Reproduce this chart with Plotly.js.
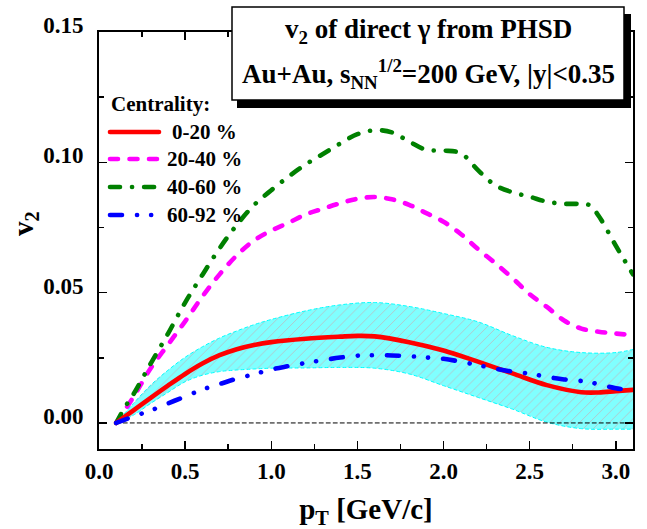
<!DOCTYPE html>
<html>
<head>
<meta charset="utf-8">
<script src="https://cdn.plot.ly/plotly-3.0.1.min.js"></script>
<style>
  html, body { margin: 0; padding: 0; background: #fff; }
  #chart { width: 647px; height: 529px; }
  .scatterlayer .js-line { stroke-linecap: round; }
  .shapelayer path { stroke-linecap: round; }
</style>
</head>
<body>
<div id="chart"></div>
<script>
// ---------------- data ----------------
const seriesNames = ["0-20 %", "20-40 %", "40-60 %", "60-92 %"];

const redX = [0.1,0.2,0.3,0.4,0.5,0.6,0.7,0.8,0.9,1.0,1.2,1.4,1.5,1.6,1.8,2.0,2.2,2.4,2.6,2.8,2.9,3.0,3.1];
const redY = [0,0.0048,0.0096,0.0143,0.0188,0.0228,0.026,0.0283,0.0299,0.031,0.0323,0.0331,0.0334,0.0332,0.031,0.0278,0.0235,0.019,0.0145,0.0118,0.0117,0.0122,0.0127];

const bandX =     [0.1,0.2,0.3,0.4,0.5,0.6,0.7,0.8,0.9,1.0,1.2,1.4,1.6,1.8,2.0,2.2,2.4,2.6,2.8,3.0,3.1];
const bandUpper = [0,0.0075,0.0145,0.0202,0.0252,0.0292,0.0326,0.0353,0.0377,0.0397,0.043,0.0453,0.0462,0.0447,0.042,0.0388,0.0335,0.029,0.027,0.027,0.0282];
const bandLower = [0,0.003,0.0075,0.0117,0.0158,0.0183,0.0197,0.0203,0.0207,0.021,0.0211,0.0213,0.021,0.0188,0.0143,0.0098,0.0053,0.0003,-0.0022,-0.0024,-0.0024];

const magX = [0.1,0.2,0.3,0.4,0.5,0.6,0.7,0.8,0.9,1.0,1.1,1.2,1.3,1.4,1.5,1.6,1.7,1.8,1.9,2.0,2.1,2.2,2.3,2.4,2.5,2.6,2.7,2.8,2.9,3.0,3.1];
const magY = [0,0.01,0.021,0.030,0.039,0.0485,0.057,0.0643,0.070,0.0738,0.0768,0.0800,0.0822,0.0843,0.086,0.0867,0.0858,0.0837,0.0805,0.0772,0.0725,0.0667,0.0613,0.0556,0.0494,0.0445,0.0393,0.0362,0.035,0.0343,0.0337];

const greenX = [0.1,0.15,0.2,0.3,0.4,0.5,0.6,0.7,0.8,0.9,1.0,1.1,1.2,1.3,1.4,1.5,1.6,1.7,1.8,1.9,2.0,2.1,2.2,2.3,2.4,2.5,2.6,2.7,2.8,2.85,2.9,2.95,3.0,3.05,3.1];
const greenY = [0,0.006,0.011,0.0228,0.0342,0.0462,0.0568,0.067,0.076,0.0836,0.0893,0.0945,0.0992,0.1032,0.1072,0.1108,0.1123,0.1115,0.1080,0.1048,0.1045,0.1035,0.0970,0.0912,0.0885,0.0868,0.0849,0.0841,0.084,0.0835,0.0795,0.074,0.068,0.0625,0.057];

const blueX = [0.1,0.2,0.3,0.4,0.5,0.6,0.7,0.8,0.9,1.0,1.1,1.2,1.3,1.4,1.5,1.6,1.7,1.8,1.9,2.0,2.1,2.2,2.3,2.4,2.5,2.6,2.7,2.8,2.9,3.0,3.1];
const blueY = [0,0.0025,0.0048,0.0075,0.0101,0.0128,0.0149,0.017,0.0187,0.0205,0.0218,0.023,0.0241,0.0251,0.0258,0.026,0.0259,0.0256,0.0251,0.0246,0.0235,0.0222,0.0208,0.0197,0.0189,0.0177,0.0167,0.0161,0.0149,0.0133,0.0125];

const zeroLineX = [0.1, 3.1];
const zeroLineY = [0, 0];

const xTickVals = [0.0, 0.5, 1.0, 1.5, 2.0, 2.5, 3.0];
const yTickVals = [0.00, 0.05, 0.10, 0.15];

// ---------------- styles ----------------
const colors = ["#ff0000", "#ff00ff", "#008000", "#0000ff"];
const dashes = ["solid", "8px,11.5px", "10px,12px,0.1px,12px", "12px,15px,0.1px,14px,0.1px,15px"];
const LW = 4.6;
const FONT = "Liberation Serif, Times New Roman, serif";

// pixel -> paper helpers (plot area: x 99..633, y 32..449)
const PL = 99, PR = 633, PT = 32, PB = 449;
const pxX = v => (v - PL) / (PR - PL);
const pxY = v => (PB - v) / (PB - PT);

const data = [
  { x: bandX, y: bandLower, mode: "lines", type: "scatter", showlegend: false, hoverinfo: "skip",
    line: { color: "#00ffff", width: 1, dash: "dot", shape: "spline" } },
  { x: bandX, y: bandUpper, mode: "lines", type: "scatter", showlegend: false, hoverinfo: "skip",
    fill: "tonexty", fillcolor: "rgb(128,255,255)",
    fillpattern: { shape: "/", bgcolor: "rgb(128,255,255)", fgcolor: "rgb(205,170,175)", size: 7, solidity: 0.09 },
    line: { color: "#00ffff", width: 1, dash: "dot", shape: "spline" } },
  { x: zeroLineX, y: zeroLineY, mode: "lines", type: "scatter", showlegend: false,
    line: { color: "#000", width: 1, dash: "4px,3px" } },
  { x: magX, y: magY, name: seriesNames[1], mode: "lines", type: "scatter",
    line: { color: colors[1], width: LW, dash: dashes[1], shape: "spline" } },
  { x: greenX, y: greenY, name: seriesNames[2], mode: "lines", type: "scatter",
    line: { color: colors[2], width: LW, dash: dashes[2], shape: "spline" } },
  { x: redX, y: redY, name: seriesNames[0], mode: "lines", type: "scatter",
    line: { color: colors[0], width: LW, dash: dashes[0], shape: "spline" } },
  { x: blueX, y: blueY, name: seriesNames[3], mode: "lines", type: "scatter",
    line: { color: colors[3], width: LW, dash: dashes[3], shape: "spline" } }
];

// manual legend + title box
const legendRowsY = [132, 159, 187, 215];
const shapes = [];
const annotations = [];

// title box: shadow + white box
shapes.push({ type: "rect", xref: "paper", yref: "paper",
  x0: pxX(237), x1: pxX(631), y0: pxY(108), y1: pxY(14),
  fillcolor: "#000", line: { width: 0 } });
shapes.push({ type: "rect", xref: "paper", yref: "paper",
  x0: pxX(232), x1: pxX(624), y0: pxY(100), y1: pxY(7),
  fillcolor: "#fff", line: { color: "#000", width: 1.5 } });

annotations.push({ xref: "paper", yref: "paper", x: pxX(428), y: pxY(31), xanchor: "center", yanchor: "middle",
  showarrow: false, text: "v<sub>2</sub> of direct \u03b3 from PHSD",
  font: { family: FONT, size: 27, color: "#000", weight: "bold" } });
annotations.push({ xref: "paper", yref: "paper", x: pxX(428), y: pxY(74), xanchor: "center", yanchor: "middle",
  showarrow: false, text: "Au+Au, s<sub>NN</sub><sup>1/2</sup>=200 GeV, |y|<0.35",
  font: { family: FONT, size: 27, color: "#000", weight: "bold" } });

// legend
annotations.push({ xref: "paper", yref: "paper", x: pxX(109), y: pxY(104), xanchor: "left", yanchor: "middle",
  showarrow: false, text: "Centrality:", font: { family: FONT, size: 21, color: "#000", weight: "bold" } });
for (let i = 0; i < 4; i++) {
  shapes.push({ type: "line", xref: "paper", yref: "paper",
    x0: pxX(110), x1: pxX(159), y0: pxY(legendRowsY[i]), y1: pxY(legendRowsY[i]),
    line: { color: colors[i], width: LW, dash: dashes[i] } });
  annotations.push({ xref: "paper", yref: "paper", x: pxX(204), y: pxY(legendRowsY[i]), xanchor: "center", yanchor: "middle",
    showarrow: false, text: seriesNames[i], font: { family: FONT, size: 21, color: "#000", weight: "bold" } });
}

// y-axis title
annotations.push({ xref: "paper", yref: "paper", x: pxX(25), y: pxY(224), xanchor: "center", yanchor: "middle",
  showarrow: false, textangle: -90, text: "v<sub>2</sub>",
  font: { family: FONT, size: 29, color: "#000", weight: "bold" } });

const axisCommon = {
  showline: true, linecolor: "#000", linewidth: 2, mirror: "allticks",
  ticks: "inside", ticklen: 8, tickwidth: 1.5, tickcolor: "#000",
  showgrid: false, zeroline: false,
  tickfont: { family: FONT, size: 23, color: "#000", weight: "bold" }
};

const layout = {
  width: 647, height: 529,
  margin: { l: PL, r: 647 - PR, t: PT, b: 529 - PB },
  paper_bgcolor: "#fff", plot_bgcolor: "#fff",
  showlegend: false,
  font: { family: FONT, color: "#000" },
  xaxis: Object.assign({}, axisCommon, {
    range: [0, 3.1], tickvals: xTickVals, tickformat: ".1f",
    ticklabelstandoff: 0,
    minor: { dtick: 0.25, tick0: 0, ticks: "inside", ticklen: 5, tickwidth: 1.5, tickcolor: "#000" },
    title: { text: "p<sub>T</sub> [GeV/c]", standoff: 27,
      font: { family: FONT, size: 29, color: "#000", weight: "bold" } }
  }),
  yaxis: Object.assign({}, axisCommon, {
    range: [-0.01, 0.15], tickvals: yTickVals, tickformat: ".2f",
    ticklabelstandoff: 9, ticklabelshift: -7,
    minor: { dtick: 0.025, tick0: 0, ticks: "inside", ticklen: 5, tickwidth: 1.5, tickcolor: "#000" }
  }),
  shapes: shapes,
  annotations: annotations
};

Plotly.newPlot("chart", data, layout, { displayModeBar: false, staticPlot: true });
</script>
</body>
</html>
